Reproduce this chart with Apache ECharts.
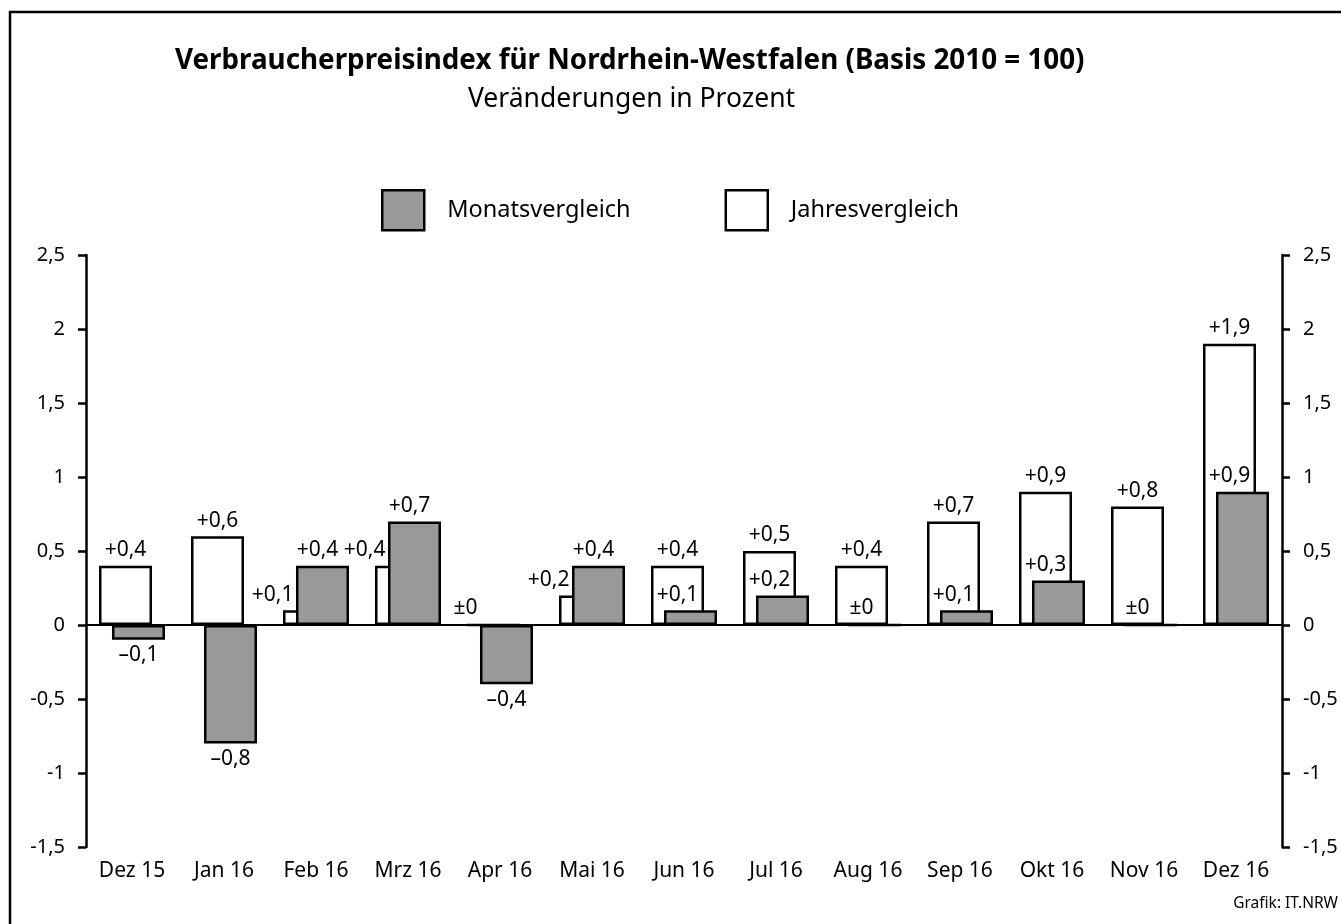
<!DOCTYPE html>
<html>
<head>
<meta charset="utf-8">
<title>Verbraucherpreisindex NRW</title>
<script src="https://cdn.jsdelivr.net/npm/echarts@6/dist/echarts.min.js"></script>
<style>
    html, body { margin: 0; padding: 0; background: #fff; }
    #chart { width: 1341px; height: 924px; }
</style>
</head>
<body>
<div id="chart"></div>
<script>
var months = ['Dez 15', 'Jan 16', 'Feb 16', 'Mrz 16', 'Apr 16', 'Mai 16', 'Jun 16',
    'Jul 16', 'Aug 16', 'Sep 16', 'Okt 16', 'Nov 16', 'Dez 16'];
// Veränderung gegenüber Vormonat
var monatsvergleich = [-0.1, -0.8, 0.4, 0.7, -0.4, 0.4, 0.1, 0.2, 0, 0.1, 0.3, 0, 0.9];
// Veränderung gegenüber Vorjahresmonat
var jahresvergleich = [0.4, 0.6, 0.1, 0.4, 0, 0.2, 0.4, 0.5, 0.4, 0.7, 0.9, 0.8, 1.9];

var FONT = 'Noto Sans';

var fmtValue = function (v) {
    if (v === 0) return '±0';
    var s = Math.abs(v).toFixed(1).replace('.', ',');
    return (v > 0 ? '+' : '–') + s;
};

var fmtTick = function (v) {
    return String(v).replace('.', ',');
};

// weisse Balken: Beschriftung nach links, wenn der graue Balken sie verdeckt
var jahrData = [];
var monatData = [];
for (var i = 0; i < months.length; i++) {
    var j = jahresvergleich[i], m = monatsvergleich[i];
    if (m >= j || j === 0) {
        jahrData.push({value: j, label: {position: 'top', align: 'right', offset: [-16, 0]}});
    } else {
        jahrData.push({value: j});
    }
    if (m < 0) {
        monatData.push({value: m, label: {position: 'bottom'}});
    } else if (m < j) {
        monatData.push({value: m, label: {position: 'top', offset: [-13, 0]}});
    } else {
        monatData.push({value: m, label: {position: 'top', offset: [-5, 0]}});
    }
}

var valueAxis = function (pos) {
    return {
        type: 'value',
        position: pos,
        min: -1.5,
        max: 2.5,
        interval: 0.5,
        axisLine: {show: true, lineStyle: {color: '#000', width: 2.5}},
        axisTick: {show: true, length: 8, lineStyle: {color: '#000', width: 2.5}},
        axisLabel: {margin: 21, color: '#000', fontSize: 20, fontFamily: FONT, formatter: fmtTick},
        splitLine: {show: false}
    };
};

var dom = document.getElementById('chart');
var myChart = echarts.init(dom);

option = {
    animation: false,
    backgroundColor: '#fff',
    textStyle: {fontFamily: FONT, color: '#000'},
    title: [
        {
            text: 'Verbraucherpreisindex für Nordrhein-Westfalen (Basis 2010 = 100)',
            left: 175,
            top: 47,
            padding: 0,
            textStyle: {fontSize: 27.8, fontWeight: 'bold', color: '#000', fontFamily: FONT}
        },
        {
            text: 'Veränderungen in Prozent',
            left: 468,
            top: 86,
            padding: 0,
            textStyle: {fontSize: 26.5, fontWeight: 'normal', color: '#000', fontFamily: FONT}
        }
    ],
    legend: {
        left: 381,
        top: 189,
        padding: 0,
        itemWidth: 42,
        itemHeight: 40,
        itemGap: 94,
        icon: 'rect',
        textStyle: {fontSize: 23.5, color: '#000', fontFamily: FONT, padding: [0, 0, 0, 18]},
        data: [
            {name: 'Monatsvergleich', itemStyle: {color: '#999', borderColor: '#000', borderWidth: 2.5}},
            {name: 'Jahresvergleich', itemStyle: {color: '#fff', borderColor: '#000', borderWidth: 2.5}}
        ]
    },
    grid: {
        left: 86,
        right: 59,
        top: 255,
        bottom: 77,
        containLabel: false
    },
    xAxis: [
        {
            type: 'category',
            data: months,
            axisLine: {onZero: true, lineStyle: {color: '#000', width: 2}},
            axisTick: {show: false},
            axisLabel: {show: false}
        },
        {
            type: 'category',
            data: months,
            position: 'bottom',
            axisLine: {show: false, onZero: false},
            axisTick: {show: false},
            axisLabel: {margin: 14, color: '#000', fontSize: 21, fontFamily: FONT}
        }
    ],
    yAxis: [valueAxis('left'), valueAxis('right')],
    series: [
        {
            name: 'Jahresvergleich',
            type: 'bar',
            barWidth: 53,
            barGap: '-75.5%',
            itemStyle: {color: '#fff', borderColor: '#000', borderWidth: 2.5},
            label: {show: true, position: 'top', distance: 5, color: '#000', fontSize: 21, fontFamily: FONT,
                formatter: function (p) { return fmtValue(p.value); }},
            data: jahrData
        },
        {
            name: 'Monatsvergleich',
            type: 'bar',
            barWidth: 53,
            barGap: '-75.5%',
            itemStyle: {color: '#999', borderColor: '#000', borderWidth: 2.5},
            label: {show: true, position: 'top', distance: 5, color: '#000', fontSize: 21, fontFamily: FONT,
                formatter: function (p) { return fmtValue(p.value); }},
            data: monatData
        }
    ],
    graphic: [
        {
            type: 'rect',
            shape: {x: 10, y: 12, width: 1400, height: 1000},
            style: {fill: 'none', stroke: '#000', lineWidth: 2.5},
            silent: true
        },
        {
            type: 'text',
            right: 3,
            top: 896,
            style: {text: 'Grafik: IT.NRW', fontSize: 15.5, fontFamily: FONT, fill: '#000'}
        }
    ]
};

myChart.setOption(option);
</script>
</body>
</html>
